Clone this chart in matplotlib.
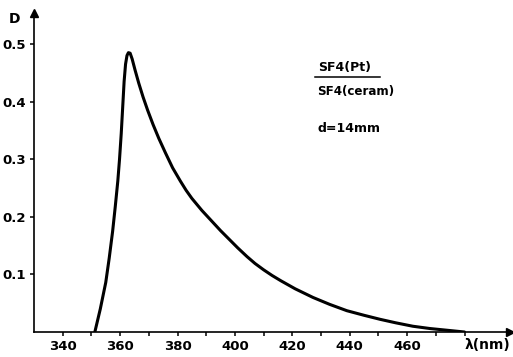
import matplotlib
matplotlib.use("Agg")
import matplotlib.pyplot as plt

# curve (wavelength in nm, absorbance D)
wavelength = [351.2, 353.1, 355.0, 356.2, 357.4, 358.3, 359.2, 359.8, 360.4, 360.9,
              361.4, 361.9, 362.4, 362.9, 363.5, 364.2, 365.2, 366.5, 368.0, 369.6,
              371.5, 373.5, 375.8, 378.3, 381.0, 383.0, 385.0, 388.5, 392.4, 395.0,
              398.0, 401.0, 404.2, 407.0, 410.0, 413.0, 416.0, 421.0, 427.2, 433.0,
              439.0, 445.0, 450.6, 456.0, 462.0, 468.0, 474.0, 480.0]
absorb = [0.0, 0.040, 0.086, 0.128, 0.175, 0.217, 0.262, 0.300, 0.345, 0.390,
          0.435, 0.465, 0.480, 0.485, 0.484, 0.474, 0.455, 0.432, 0.408, 0.385,
          0.360, 0.336, 0.311, 0.285, 0.262, 0.246, 0.232, 0.211, 0.190, 0.176,
          0.161, 0.146, 0.131, 0.119, 0.108, 0.098, 0.089, 0.075, 0.060, 0.048,
          0.037, 0.029, 0.022, 0.016, 0.010, 0.006, 0.003, 0.0]

x_ticks = [340, 350, 360, 370, 380, 390, 400, 410, 420, 430, 440, 450, 460, 470, 480]
x_labels = ["340", "", "360", "", "380", "", "400", "", "420", "", "440", "", "460", "", ""]
y_ticks = [0.1, 0.2, 0.3, 0.4, 0.5]
y_labels = ["0.1", "0.2", "0.3", "0.4", "0.5"]

W, H = 513, 357
fig = plt.figure(figsize=(W / 100, H / 100), dpi=100, facecolor="white")
x0, x1, y0, y1 = 34, 510, 332, 13
ax = fig.add_axes([x0 / W, 1 - y0 / H, (x1 - x0) / W, (y0 - y1) / H])

ax.plot(wavelength, absorb, color="black", linewidth=2.2, solid_capstyle="round",
        solid_joinstyle="round")

ax.set_xlim(330, 330 + (x1 - x0) / 2.87)
ax.set_ylim(0, (y0 - y1) / 576)

for s in ["top", "right"]:
    ax.spines[s].set_visible(False)
for s in ["left", "bottom"]:
    ax.spines[s].set_linewidth(1.2)

# arrow heads on the axes
ax.plot(1, 0, ">k", markersize=5.5, transform=ax.transAxes, clip_on=False)
ax.plot(0, 1, "^k", markersize=5.5, transform=ax.transAxes, clip_on=False)

ax.set_xticks(x_ticks)
ax.set_xticklabels(x_labels)
ax.set_yticks(y_ticks)
ax.set_yticklabels(y_labels)
ax.tick_params(direction="out", length=3, width=1.1, labelsize=9.5, pad=3)
for lab in ax.get_xticklabels() + ax.get_yticklabels():
    lab.set_fontweight("bold")

ax.text(-0.04, 0.98, "D", transform=ax.transAxes, fontsize=10, fontweight="bold",
        ha="center", va="center")
ax.text(1.0, -0.042, "λ(nm)", transform=ax.transAxes, fontsize=10, fontweight="bold",
        ha="right", va="center")

# annotation block
fig.text(318 / W, 1 - 68 / H, "SF4(Pt)", fontsize=9, fontweight="bold", va="center")
fig.add_artist(plt.Line2D([315 / W, 380 / W], [1 - 77 / H, 1 - 77 / H], color="black",
                          linewidth=1.1))
fig.text(317 / W, 1 - 91 / H, "SF4(ceram)", fontsize=8.6, fontweight="bold", va="center")
fig.text(318 / W, 1 - 128 / H, "d=14mm", fontsize=9, fontweight="bold", va="center")

fig.savefig("out.png", dpi=100, facecolor="white")
